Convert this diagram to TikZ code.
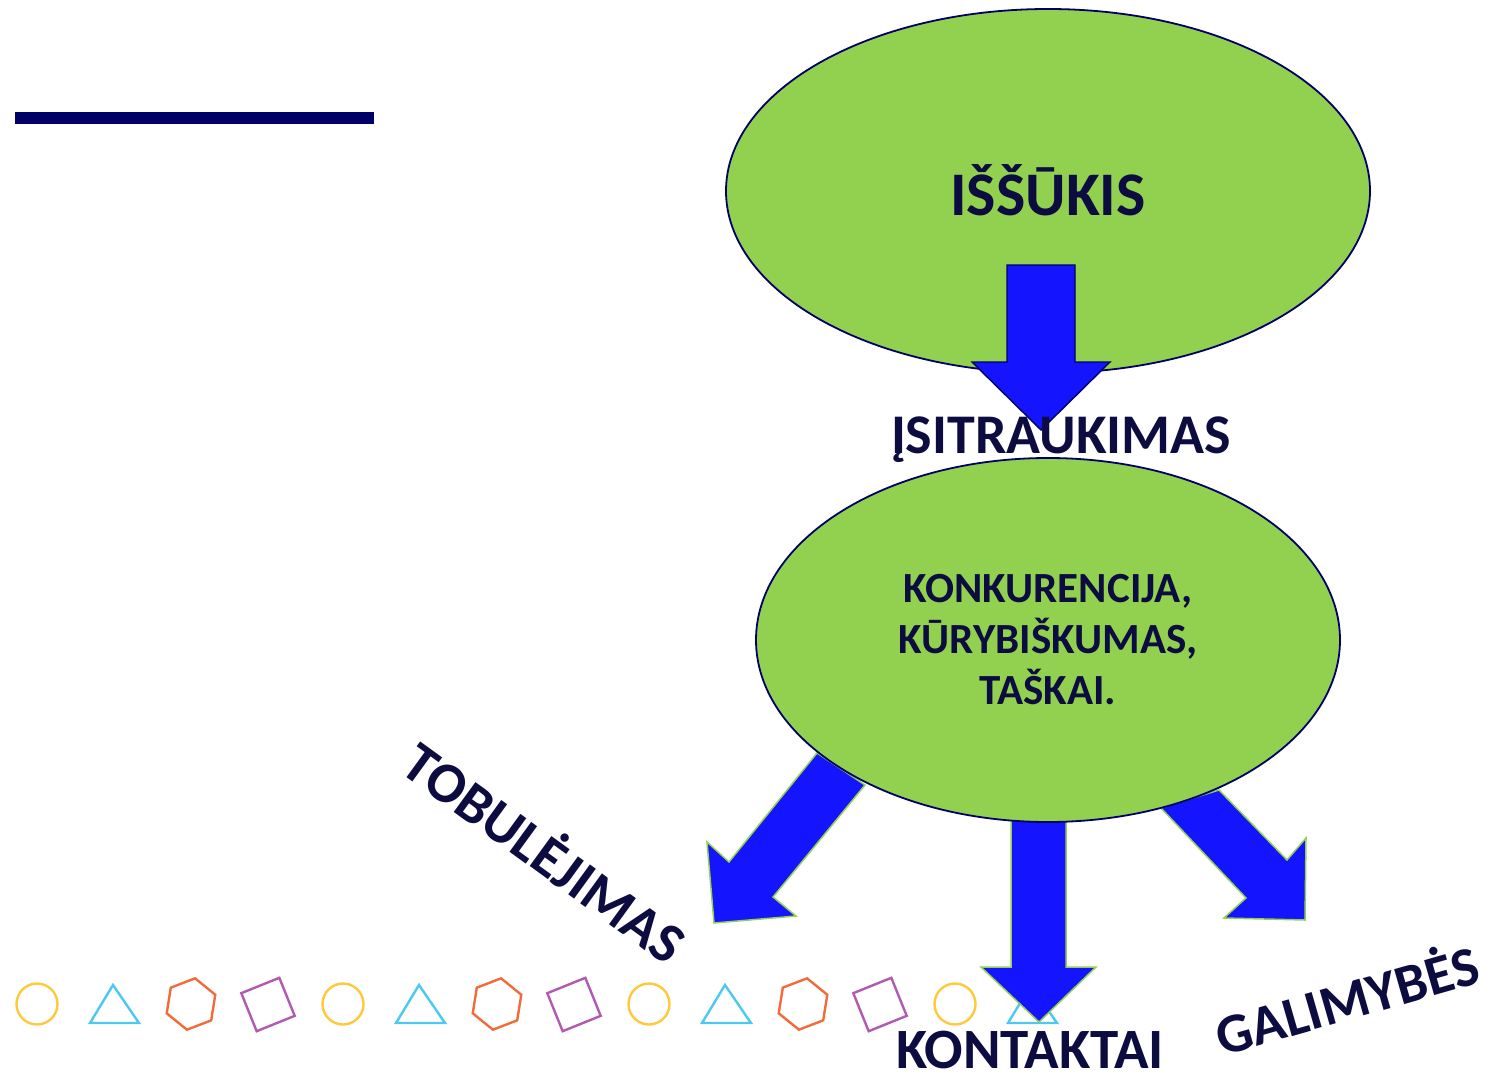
\documentclass[tikz,border=0pt]{standalone}
\usepackage{fontspec}
\setmainfont{Carlito}
\usetikzlibrary{shapes.geometric}
\definecolor{navy}{HTML}{000066}
\definecolor{txtnavy}{HTML}{0C0C40}
\definecolor{lgreen}{HTML}{92D050}
\definecolor{ablue}{HTML}{1414FF}
\definecolor{cyell}{HTML}{FFC83D}
\definecolor{tblue}{HTML}{4CC9F0}
\definecolor{horange}{HTML}{F26B3A}
\definecolor{spurple}{HTML}{B05AB0}
\tikzset{
  bubble/.style={ellipse, fill=lgreen, draw=navy, line width=1.8pt, inner sep=0pt},
  bigtxt/.style={text=txtnavy, font=\bfseries\fontsize{#1}{#1}\selectfont, inner sep=0pt},
  bluearrow/.style={fill=ablue, draw=lgreen, line width=1.5pt, line join=miter},
  toparrow/.style={fill=ablue, draw=navy, line width=1.4pt, line join=miter},
  deco/.style={line width=2.4pt},
}
\begin{document}
\begin{tikzpicture}[x=1pt,y=-1pt]
\useasboundingbox (0,0) rectangle (1486,1073);
% navy bar
\fill[navy] (15,112) rectangle (374,124);
% decorative shapes row
\foreach \i in {0,1,2,3}{
  \draw[deco, cyell] ({37+306*\i},1004) circle (20.5);
  \draw[deco, tblue] ({113+306*\i},985) -- ({90+306*\i},1023) -- ({139+306*\i},1023) -- cycle;
}
\foreach \i in {0,1,2}{
  \draw[deco, horange] ({191+306*\i},1004) +(99:26) -- +(39:26) -- +(-21:26) -- +(-81:26) -- +(-141:26) -- +(159:26) -- cycle;
  \draw[deco, spurple] ({268+306*\i},1004.5) +(-22-45:29) -- +(-22+45:29) -- +(-22+135:29) -- +(-22+225:29) -- cycle;
}
% lower arrows
\coordinate (la1) at (817,753); \coordinate (la2) at (729,862); \coordinate (la3) at (707,842);
\coordinate (la4) at (714,923); \coordinate (la5) at (796,916); \coordinate (la6) at (773,897);
\coordinate (la7) at (865,785);
\draw[bluearrow] (la1) -- (la2) -- (la3) -- (la4) -- (la5) -- (la6) -- (la7) -- cycle;
\coordinate (ma1) at (1011,780); \coordinate (ma2) at (1011,967); \coordinate (ma3) at (981,967);
\coordinate (ma4) at (1039,1022); \coordinate (ma5) at (1096,967); \coordinate (ma6) at (1066,967);
\coordinate (ma7) at (1066,780);
\draw[bluearrow] (ma1) -- (ma2) -- (ma3) -- (ma4) -- (ma5) -- (ma6) -- (ma7) -- cycle;
\coordinate (ra1) at (1161,808); \coordinate (ra2) at (1246,898); \coordinate (ra3) at (1224,918);
\coordinate (ra4) at (1305,920); \coordinate (ra5) at (1306,838); \coordinate (ra6) at (1287,860);
\coordinate (ra7) at (1219,790);
\draw[bluearrow] (ra1) -- (ra2) -- (ra3) -- (ra4) -- (ra5) -- (ra6) -- (ra7) -- cycle;
% ellipses
\node[bubble, minimum width=644, minimum height=364] (top) at (1048,191) {};
\node[bigtxt=62] (toptxt) at (1048,190) {IŠŠŪKIS};
\node[bubble, minimum width=584, minimum height=364, text=txtnavy, align=center,
  font=\bfseries\fontsize{43}{51}\selectfont] (mid) at (1048,640)
  {KONKURENCIJA,\\ KŪRYBIŠKUMAS,\\ TAŠKAI.};
% top arrow
\coordinate (ta1) at (1007,265); \coordinate (ta2) at (1007,362); \coordinate (ta3) at (972,362);
\coordinate (ta4) at (1041,430); \coordinate (ta5) at (1110,362); \coordinate (ta6) at (1075,362);
\coordinate (ta7) at (1075,265);
\draw[toparrow] (ta1) -- (ta2) -- (ta3) -- (ta4) -- (ta5) -- (ta6) -- (ta7) -- cycle;
% labels
\node[bigtxt=56] (isitr) at (1061,440) {ĮSITRAUKIMAS};
\node[bigtxt=57, rotate=-36] (tob) at (547,850) {TOBULĖJIMAS};
\node[bigtxt=57] (kont) at (1030,1050) {KONTAKTAI};
\node[bigtxt=56, rotate=16] (gal) at (1346,997) {GALIMYBĖS};
\end{tikzpicture}
\end{document}
